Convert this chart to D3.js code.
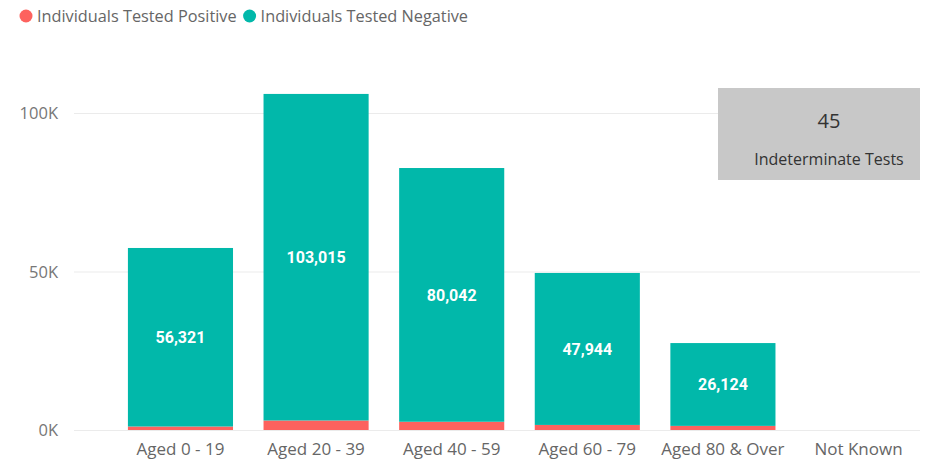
<!DOCTYPE html>
<html>
<head>
<meta charset="utf-8">
<script src="https://cdn.jsdelivr.net/npm/d3@7"></script>
<style>
  body { margin: 0; background: #fff; }
  svg { display: block; font-family: "Open Sans", "Segoe UI", sans-serif; }
</style>
</head>
<body>
<svg id="chart" width="935" height="462"></svg>
<script>
var categories = ["Aged 0 - 19", "Aged 20 - 39", "Aged 40 - 59", "Aged 60 - 79", "Aged 80 & Over", "Not Known"];
var positive = [1100, 3000, 2600, 1600, 1300, 0];
var negative = [56321, 103015, 80042, 47944, 26124, 0];
var seriesNames = ["Individuals Tested Positive", "Individuals Tested Negative"];
var seriesColors = ["#FD625E", "#01B8AA"];
var yTicks = [0, 50000, 100000];
var cardValue = "45";
var cardLabel = "Indeterminate Tests";

var svg = d3.select("#chart");

var x = d3.scaleBand()
    .domain(categories)
    .range([113, 926])
    .paddingInner(0.225)
    .paddingOuter(0.11);

var y = d3.scaleLinear()
    .domain([0, 100000])
    .range([430, 113]);

// gridlines
svg.append("g").selectAll("line")
    .data(yTicks)
    .enter().append("line")
    .attr("x1", 74).attr("x2", 920)
    .attr("y1", function(d){ return y(d) + 0.5; })
    .attr("y2", function(d){ return y(d) + 0.5; })
    .style("stroke", "#ebebeb")
    .style("stroke-width", 1);

// y axis labels
svg.append("g").selectAll("text")
    .data(yTicks)
    .enter().append("text")
    .attr("x", 58)
    .attr("y", function(d){ return y(d) + 6; })
    .attr("text-anchor", "end")
    .style("font-size", "16.5px")
    .style("fill", "#777")
    .text(function(d){ return (d / 1000) + "K"; });

// stacked bars
var rows = categories.map(function(c, i){
    return { cat: c, pos: positive[i], neg: negative[i] };
});

var bars = svg.append("g");
rows.forEach(function(r){
    if (r.pos > 0)
        bars.append("rect")
            .attr("x", x(r.cat)).attr("width", x.bandwidth())
            .attr("y", y(r.pos)).attr("height", y(0) - y(r.pos))
            .style("fill", seriesColors[0]);
    if (r.neg > 0) {
        bars.append("rect")
            .attr("x", x(r.cat)).attr("width", x.bandwidth())
            .attr("y", y(r.pos + r.neg)).attr("height", y(r.pos) - y(r.pos + r.neg))
            .style("fill", seriesColors[1]);
        bars.append("text")
            .attr("x", x(r.cat) + x.bandwidth() / 2)
            .attr("y", (y(r.pos) + y(r.pos + r.neg)) / 2 + 6)
            .attr("text-anchor", "middle")
            .style("font-family", "Roboto, sans-serif")
            .style("font-weight", "bold")
            .style("font-size", "16px")
            .style("fill", "#fff")
            .text(d3.format(",")(r.neg));
    }
});

// x axis labels
svg.append("g").selectAll("text")
    .data(categories)
    .enter().append("text")
    .attr("x", function(d){ return x(d) + x.bandwidth() / 2; })
    .attr("y", 455)
    .attr("text-anchor", "middle")
    .style("font-size", "17px")
    .style("fill", "#666")
    .text(function(d){ return d; });

// legend
var legend = svg.append("g");
var lx = 26;
seriesNames.forEach(function(name, i){
    legend.append("circle")
        .attr("cx", lx).attr("cy", 16).attr("r", 6.5)
        .style("fill", seriesColors[i]);
    var t = legend.append("text")
        .attr("x", lx + 11).attr("y", 22)
        .style("font-size", "16.3px")
        .style("fill", "#666")
        .text(name);
    lx += 11 + t.node().getComputedTextLength() + 13;
});

// card
var card = svg.append("g");
card.append("rect")
    .attr("x", 718).attr("y", 88).attr("width", 202).attr("height", 92)
    .style("fill", "#c8c8c8");
card.append("text")
    .attr("x", 829).attr("y", 128)
    .attr("text-anchor", "middle")
    .style("font-size", "20px")
    .style("fill", "#333")
    .text(cardValue);
card.append("text")
    .attr("x", 829).attr("y", 165)
    .attr("text-anchor", "middle")
    .style("font-size", "16px")
    .style("fill", "#333")
    .text(cardLabel);
</script>
</body>
</html>
